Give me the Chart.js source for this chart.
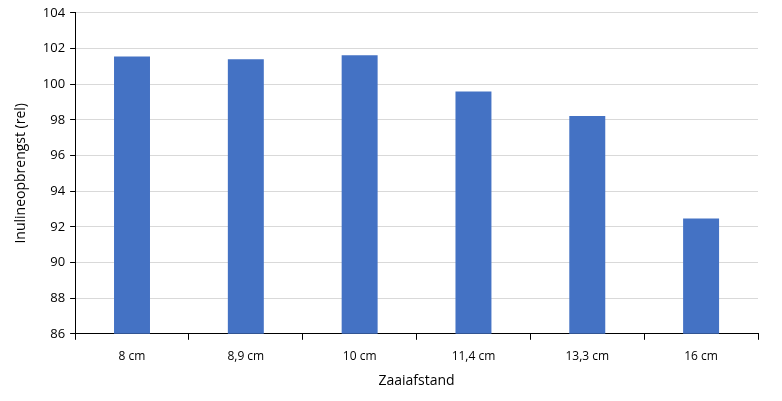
<!DOCTYPE html>
<html>
<head>
<meta charset="utf-8">
<script src="https://cdn.jsdelivr.net/npm/chart.js@4"></script>
<style>
  html, body { margin: 0; padding: 0; background: #fff; }
  #wrap { width: 782px; height: 401px; }
</style>
</head>
<body>
<div id="wrap"><canvas id="barChart" width="782" height="401"></canvas></div>
<script>
const categories = ['8 cm', '8,9 cm', '10 cm', '11,4 cm', '13,3 cm', '16 cm'];
const yieldValues = [101.55, 101.4, 101.62, 99.58, 98.22, 92.47];

window.onload = function() {
    const ctx = document.getElementById('barChart').getContext('2d');
    Chart.defaults.font.family = '"Open Sans", "Noto Sans", sans-serif';
    Chart.defaults.color = '#000';

    new Chart(ctx, {
        type: 'bar',
        data: {
            labels: categories,
            datasets: [{
                label: 'Inulineopbrengst',
                data: yieldValues,
                backgroundColor: '#4472c4',
                barPercentage: 0.316,
                categoryPercentage: 1.0
            }]
        },
        options: {
            responsive: false,
            animation: false,
            layout: { padding: { top: 11, right: 24, bottom: 8, left: 9 } },
            plugins: {
                legend: { display: false },
                tooltip: { enabled: false }
            },
            scales: {
                x: {
                    grid: {
                        drawOnChartArea: false,
                        drawTicks: true,
                        tickLength: 6,
                        tickColor: '#000',
                        offset: true
                    },
                    border: { display: true, color: '#000', width: 1 },
                    ticks: { font: { size: 12 }, padding: 10, color: '#000' },
                    title: {
                        display: true,
                        text: 'Zaaiafstand',
                        font: { size: 14 },
                        color: '#000',
                        padding: { top: -2 }
                    }
                },
                y: {
                    min: 86,
                    max: 104,
                    ticks: { stepSize: 2, font: { size: 13 }, padding: 5, color: '#000' },
                    grid: {
                        color: '#d9d9d9',
                        tickColor: '#000',
                        tickLength: 5
                    },
                    border: { display: true, color: '#000', width: 1 },
                    title: {
                        display: true,
                        text: 'Inulineopbrengst (rel)',
                        font: { size: 14 },
                        color: '#000',
                        padding: { bottom: 8 }
                    }
                }
            }
        }
    });
};
</script>
</body>
</html>
